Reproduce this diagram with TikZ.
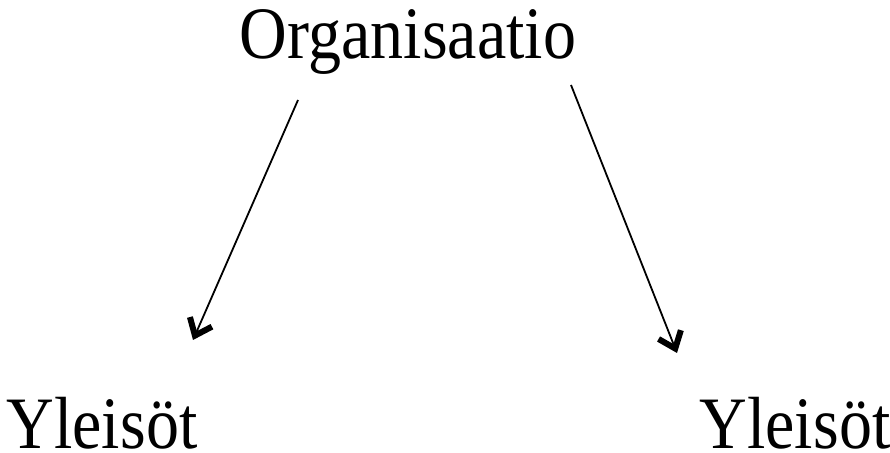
\documentclass[tikz,border=0pt]{standalone}
\usepackage{fontspec}
\setmainfont{Liberation Serif}
\usetikzlibrary{arrows.meta}
\begin{document}
\begin{tikzpicture}[x=1pt,y=1pt,
  lbl/.style={inner sep=0pt,anchor=base,font=\fontsize{66}{78}\selectfont,yscale=1.12,transform shape},
  conn/.style={line width=1.8pt,-{Straight Barb[length=15pt,width=24pt,line width=6pt]}}]
\useasboundingbox (0,0) rectangle (890,452);
\node[lbl] (org) at (408,393) {Organisaatio};
\node[lbl] (y1) at (102,4) {Yleisöt};
\node[lbl] (y2) at (795,4) {Yleisöt};
\coordinate (a1) at (298,352);
\coordinate (b1) at (193,112);
\coordinate (a2) at (571,367);
\coordinate (b2) at (677,99);
\draw[conn] (a1) -- (b1);
\draw[conn] (a2) -- (b2);
\end{tikzpicture}
\end{document}
